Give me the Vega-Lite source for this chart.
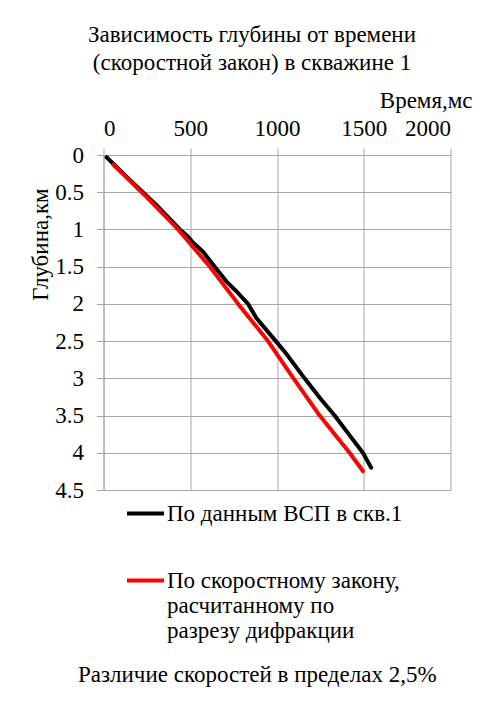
{
  "$schema": "https://vega.github.io/schema/vega-lite/v6.json",
  "width": 347,
  "height": 335,
  "autosize": "none",
  "padding": {"left": 103.5, "top": 155, "right": 44.5, "bottom": 225},
  "background": "white",
  "title": {
    "text": ["Зависимость глубины от времени", "(скоростной закон) в скважине 1"],
    "font": "Liberation Serif",
    "fontSize": 23,
    "fontWeight": "normal",
    "color": "#000000",
    "anchor": "middle",
    "dx": -25,
    "lineHeight": 28,
    "offset": 14
  },
  "config": {
    "view": {"stroke": null},
    "style": {"guide-label": {"lineHeight": 25}},
    "axis": {
      "labelFont": "Liberation Serif",
      "labelFontSize": 23,
      "labelColor": "#000000",
      "titleFont": "Liberation Serif",
      "titleFontSize": 23,
      "titleFontWeight": "normal",
      "titleColor": "#000000",
      "gridColor": "#a6a6a6",
      "gridOpacity": 1,
      "domainColor": "#a6a6a6",
      "tickColor": "#a6a6a6",
      "tickSize": 7
    },
    "legend": {
      "labelFont": "Liberation Serif",
      "labelFontSize": 23,
      "labelColor": "#000000",
      "titleFont": "Liberation Serif",
      "titleFontSize": 23,
      "titleFontWeight": "normal",
      "titleColor": "#000000"
    }
  },
  "data": {
    "values": [
      {"series": "По данным ВСП в скв.1", "t": 18, "d": 0.03},
      {"series": "По данным ВСП в скв.1", "t": 150, "d": 0.33},
      {"series": "По данным ВСП в скв.1", "t": 300, "d": 0.66},
      {"series": "По данным ВСП в скв.1", "t": 440, "d": 1.0},
      {"series": "По данным ВСП в скв.1", "t": 480, "d": 1.08},
      {"series": "По данным ВСП в скв.1", "t": 517, "d": 1.18},
      {"series": "По данным ВСП в скв.1", "t": 574, "d": 1.3},
      {"series": "По данным ВСП в скв.1", "t": 641, "d": 1.5},
      {"series": "По данным ВСП в скв.1", "t": 709, "d": 1.7},
      {"series": "По данным ВСП в скв.1", "t": 766, "d": 1.83},
      {"series": "По данным ВСП в скв.1", "t": 833, "d": 2.0},
      {"series": "По данным ВСП в скв.1", "t": 881, "d": 2.19},
      {"series": "По данным ВСП в скв.1", "t": 993, "d": 2.5},
      {"series": "По данным ВСП в скв.1", "t": 1050, "d": 2.66},
      {"series": "По данным ВСП в скв.1", "t": 1159, "d": 3.0},
      {"series": "По данным ВСП в скв.1", "t": 1250, "d": 3.27},
      {"series": "По данным ВСП в скв.1", "t": 1332, "d": 3.5},
      {"series": "По данным ВСП в скв.1", "t": 1420, "d": 3.77},
      {"series": "По данным ВСП в скв.1", "t": 1495, "d": 4.0},
      {"series": "По данным ВСП в скв.1", "t": 1543, "d": 4.2},
      {"series": "По скоростному закону", "t": 56, "d": 0.13},
      {"series": "По скоростному закону", "t": 250, "d": 0.57},
      {"series": "По скоростному закону", "t": 430, "d": 1.0},
      {"series": "По скоростному закону", "t": 613, "d": 1.5},
      {"series": "По скоростному закону", "t": 776, "d": 2.0},
      {"series": "По скоростному закону", "t": 948, "d": 2.5},
      {"series": "По скоростному закону", "t": 1095, "d": 3.0},
      {"series": "По скоростному закону", "t": 1246, "d": 3.5},
      {"series": "По скоростному закону", "t": 1418, "d": 4.0},
      {"series": "По скоростному закону", "t": 1495, "d": 4.245}
    ]
  },
  "mark": {"type": "line", "strokeWidth": 4, "strokeCap": "round", "strokeJoin": "round"},
  "encoding": {
    "x": {
      "field": "t",
      "type": "quantitative",
      "scale": {"domain": [0, 2000], "nice": false},
      "axis": {
        "orient": "top",
        "values": [0, 500, 1000, 1500, 2000],
        "format": "d",
        "labelPadding": 8,
        "title": "Время,мс",
        "titleX": 368.5,
        "titleY": -55,
        "titleAlign": "right",
        "titleAnchor": null,
        "titleBaseline": "middle"
      }
    },
    "y": {
      "field": "d",
      "type": "quantitative",
      "scale": {"domain": [0, 4.5], "reverse": true, "nice": false, "zero": false},
      "axis": {
        "values": [0, 0.5, 1, 1.5, 2, 2.5, 3, 3.5, 4, 4.5],
        "format": "~g",
        "labelPadding": 13,
        "title": "Глубина,км",
        "titleX": -63.5,
        "titleY": 89,
        "titleAlign": "center",
        "titleAnchor": null,
        "titleBaseline": "middle"
      }
    },
    "color": {
      "field": "series",
      "type": "nominal",
      "scale": {"domain": ["По данным ВСП в скв.1", "По скоростному закону"], "range": ["#000000", "#ff0000"]},
      "legend": {
        "orient": "none",
        "legendX": -25.5,
        "legendY": 338,
        "symbolType": "stroke",
        "symbolSize": 1369,
        "symbolStrokeWidth": 4,
        "symbolOffset": 47,
        "labelOffset": 1,
        "labelLimit": 0,
        "rowPadding": 34,
        "labelExpr": "datum.label == 'По скоростному закону' ? ['По скоростному закону,', 'расчитанному по', 'разрезу дифракции'] : datum.label",
        "title": "Различие скоростей в пределах 2,5%",
        "titleOrient": "bottom",
        "titleAnchor": "start",
        "titleLimit": 0,
        "titlePadding": 21
      }
    }
  }
}
